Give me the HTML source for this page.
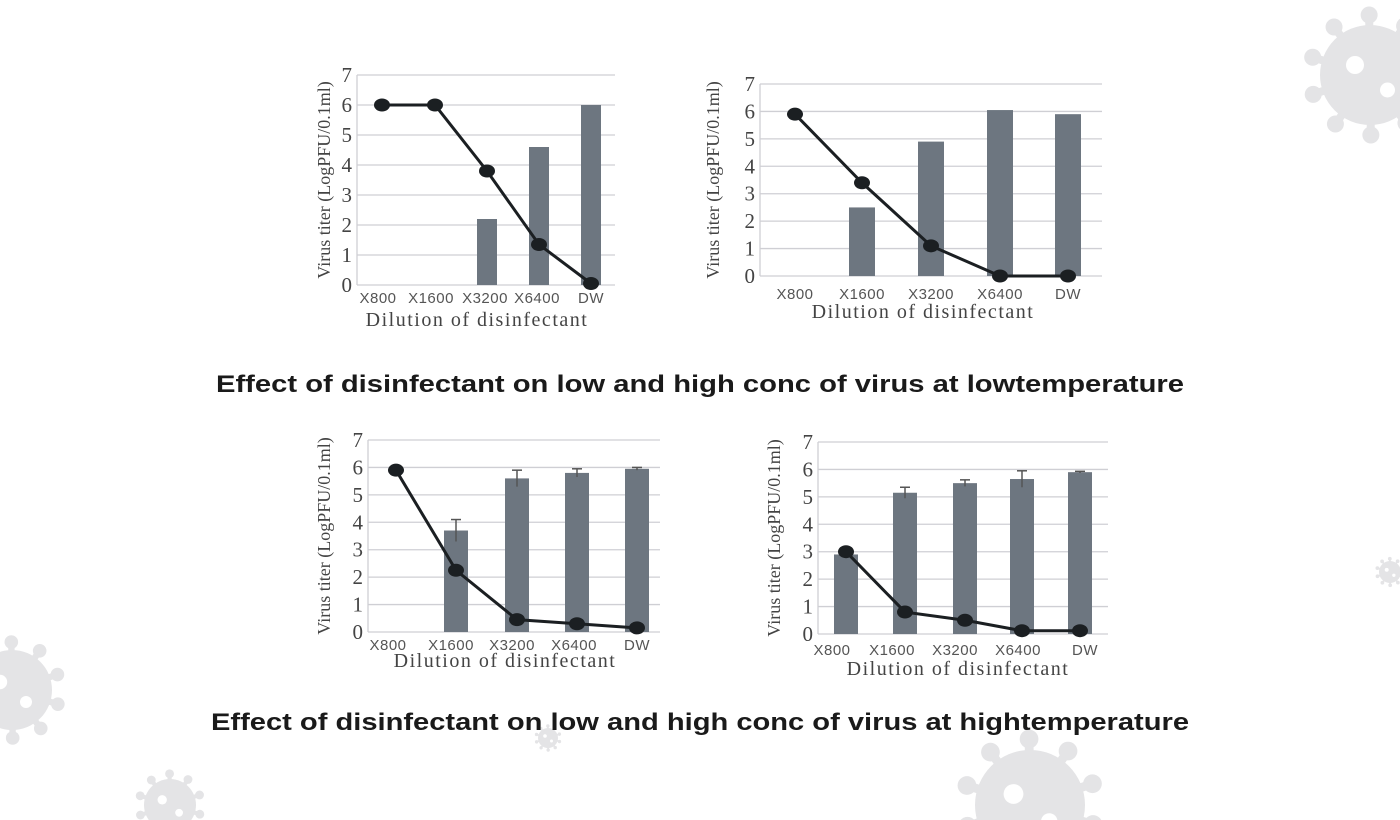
<!DOCTYPE html>
<html><head><meta charset="utf-8"><style>
html,body{margin:0;padding:0;background:#fff;width:1400px;height:820px;overflow:hidden}
svg{display:block;position:absolute;left:0;top:0}
</style></head><body>
<svg id="s" width="1400" height="820" viewBox="0 0 1400 820" xmlns="http://www.w3.org/2000/svg" overflow="hidden">
<g id="bg"></g>
<g id="fg"></g>
<text x="216" y="392" textLength="968" lengthAdjust="spacingAndGlyphs" font-family="Liberation Sans, sans-serif" font-weight="bold" font-size="24" fill="#1a1a1a">Effect of disinfectant on low and high conc of virus at lowtemperature</text>
<text x="211" y="730" textLength="978" lengthAdjust="spacingAndGlyphs" font-family="Liberation Sans, sans-serif" font-weight="bold" font-size="24" fill="#1a1a1a">Effect of disinfectant on low and high conc of virus at hightemperature</text>
</svg>
<script>
var NS='http://www.w3.org/2000/svg';var bg=document.getElementById('bg'),fg=document.getElementById('fg');
function mk(p,t,a,txt){var e=document.createElementNS(NS,t);for(var k in a)e.setAttribute(k,a[k]);if(txt!=null)e.textContent=txt;p.appendChild(e);return e;}
function virus(cx,cy,r){var g='#e4e4e6';for(var i=0;i<10;i++){var a=i*Math.PI/5+0.3;mk(bg,'line',{x1:cx,y1:cy,x2:cx+Math.cos(a)*r*1.2,y2:cy+Math.sin(a)*r*1.2,stroke:g,'stroke-width':r*0.16});mk(bg,'circle',{cx:cx+Math.cos(a)*r*1.2,cy:cy+Math.sin(a)*r*1.2,r:r*0.17,fill:g});}
mk(bg,'circle',{cx:cx,cy:cy,r:r,fill:g});mk(bg,'circle',{cx:cx-r*0.3,cy:cy-r*0.2,r:r*0.18,fill:'#fff'});mk(bg,'circle',{cx:cx+r*0.35,cy:cy+r*0.3,r:r*0.15,fill:'#fff'});}
virus(1370,75,50);virus(1390,572,11);virus(12,690,40);virus(170,805,26);virus(1030,805,55);virus(548,738,10);
function chart(c){
 var unit=(c.y0-c.y7)/7;
 for(var v=0;v<=7;v++){var y=c.y0-v*unit;mk(fg,'line',{x1:c.gx0,x2:c.gx1,y1:y,y2:y,stroke:'#cfcfd4','stroke-width':1.3});
  mk(fg,'text',{x:c.gx0-5,y:y+7,'text-anchor':'end','font-family':'Liberation Serif, serif','font-size':21,fill:'#444'},v);}
 mk(fg,'line',{x1:c.gx0,x2:c.gx0,y1:c.y7,y2:c.y0,stroke:'#cfcfd4','stroke-width':1.3});
 var labs=['X800','X1600','X3200','X6400','DW'];
 for(var i=0;i<5;i++){var b=c.bars[i];if(b>0){mk(fg,'rect',{x:c.xs[i]-c.bw/2,y:c.y0-b*unit,width:c.bw,height:b*unit,fill:'#6d7680'});
   if(c.err){mk(fg,'line',{x1:c.xs[i],x2:c.xs[i],y1:c.y0-(b+c.err[i])*unit,y2:c.y0-(b-c.err[i])*unit,stroke:'#555','stroke-width':1.5});mk(fg,'line',{x1:c.xs[i]-5,x2:c.xs[i]+5,y1:c.y0-(b+c.err[i])*unit,y2:c.y0-(b+c.err[i])*unit,stroke:'#555','stroke-width':1.5});}}
  mk(fg,'text',{x:c.lx[i],y:c.ly,'text-anchor':'middle','font-family':'Liberation Sans, sans-serif','font-size':15,'letter-spacing':0.5,fill:'#555'},labs[i]);}
 var pts=c.line.map(function(v,i){return c.xs[i]+','+(c.y0-v*unit)}).join(' ');
 mk(fg,'polyline',{points:pts,fill:'none',stroke:'#1b1f22','stroke-width':3});
 c.line.forEach(function(v,i){mk(fg,'ellipse',{cx:c.xs[i],cy:c.y0-v*unit,rx:8,ry:6.5,fill:'#1b1f22'})});
 mk(fg,'text',{x:c.tx,y:c.ty,'text-anchor':'middle','font-family':'Liberation Serif, serif','font-size':20,fill:'#444','letter-spacing':1.5},'Dilution of disinfectant');
 mk(fg,'text',{x:0,y:0,transform:'translate('+c.ax+','+((c.y0+c.y7)/2)+') rotate(-90)','text-anchor':'middle','font-family':'Liberation Serif, serif','font-size':18,fill:'#444'},'Virus titer (LogPFU/0.1ml)');
}
chart({y0:285,y7:75,gx0:357,gx1:615,xs:[382,435,487,539,591],lx:[378,431,485,537,591],ly:303,bw:20,bars:[0,0,2.2,4.6,6.0],line:[6,6,3.8,1.35,0.05],tx:477,ty:326,ax:330});
chart({y0:276,y7:84,gx0:760,gx1:1102,xs:[795,862,931,1000,1068],lx:[795,862,931,1000,1068],ly:299,bw:26,bars:[0,2.5,4.9,6.05,5.9],err:null,line:[5.9,3.4,1.1,0,0],tx:923,ty:318,ax:719});
chart({y0:632,y7:440,gx0:368,gx1:660,xs:[396,456,517,577,637],lx:[388,451,512,574,637],ly:650,bw:24,bars:[0,3.7,5.6,5.8,5.95],err:[0,0.4,0.3,0.15,0.05],line:[5.9,2.25,0.45,0.3,0.15],tx:505,ty:667,ax:330});
chart({y0:634,y7:442,gx0:818,gx1:1108,xs:[846,905,965,1022,1080],lx:[832,892,955,1018,1085],ly:655,bw:24,bars:[2.9,5.15,5.5,5.65,5.9],err:[0,0.2,0.12,0.3,0.03],line:[3.0,0.8,0.5,0.12,0.12],tx:958,ty:675,ax:780});
</script>
</body></html>
